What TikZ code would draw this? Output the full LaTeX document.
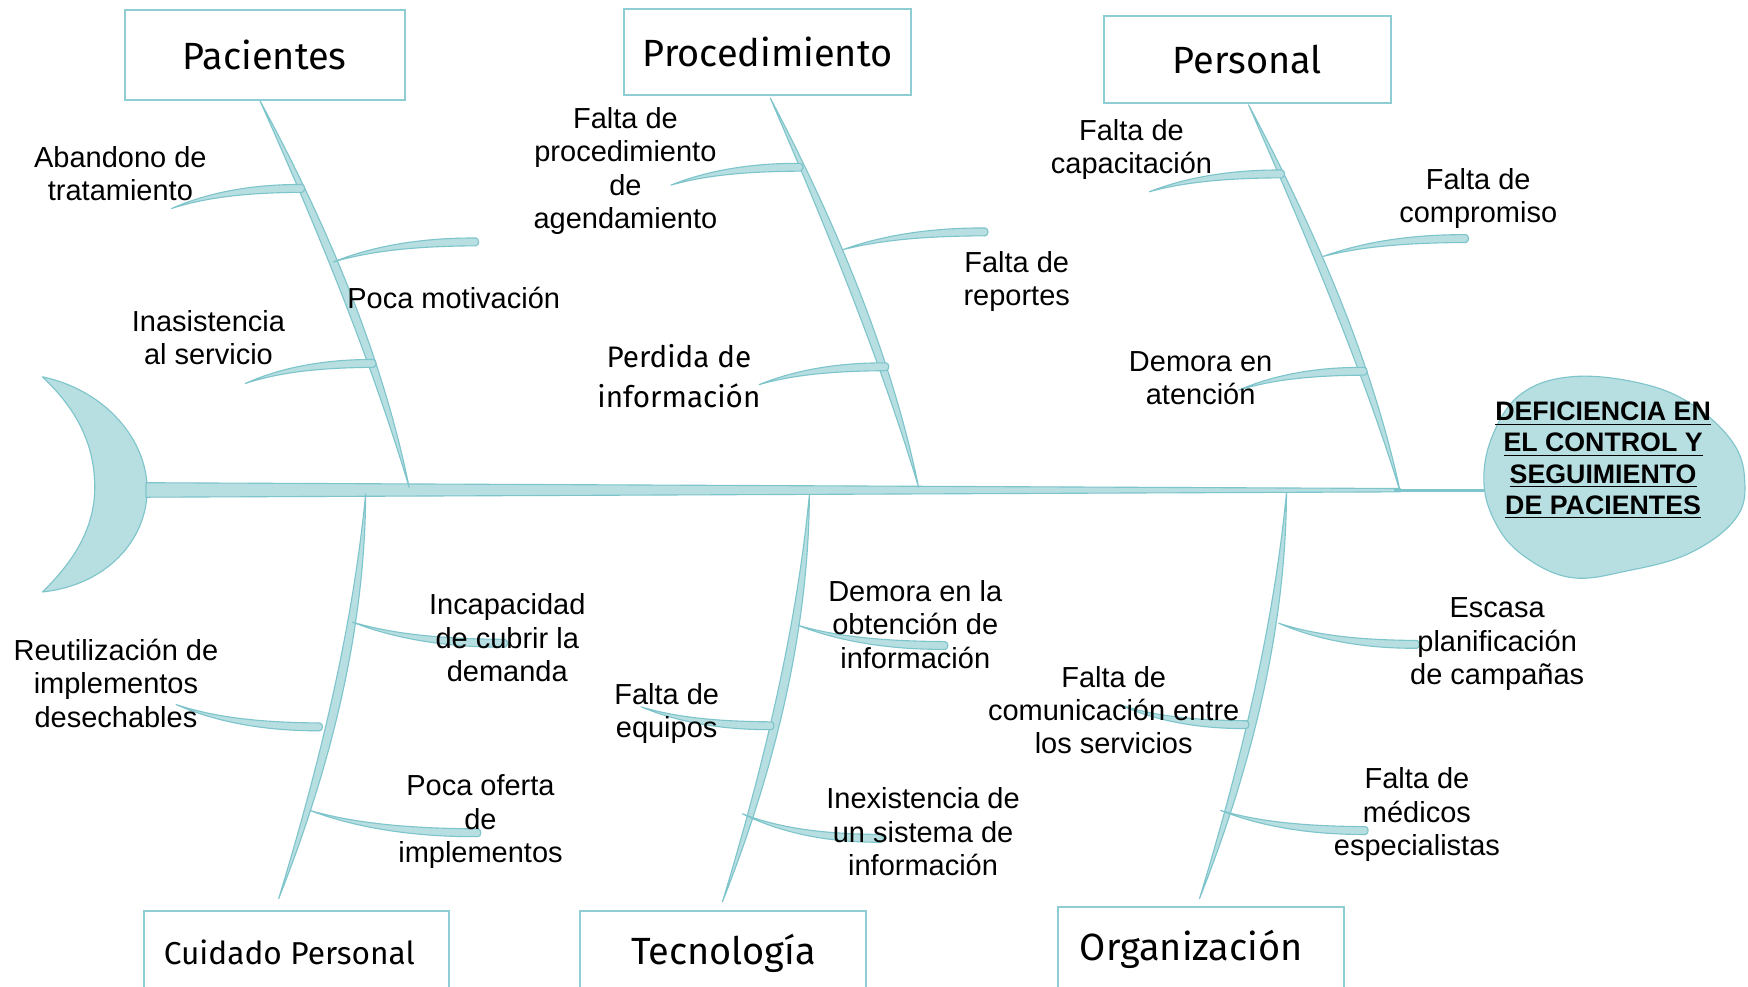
\documentclass[tikz,border=0pt]{standalone}
\usepackage{fontspec}
\setmainfont{Liberation Sans}
\newfontfamily\comic{Fira Sans}
\definecolor{bonefill}{HTML}{B7DFE2}
\definecolor{boneline}{HTML}{7EC4CB}
\definecolor{boxline}{HTML}{8DCDD3}
\tikzset{
  bonestyle/.style={fill=bonefill, draw=boneline, line width=0.5pt, line join=round},
  catbox/.style={draw=boxline, line width=0.9pt, fill=white, inner sep=0pt},
  cattext/.style={font=\comic\fontsize{17}{20}\selectfont, inner sep=0pt},
  lbl/.style={font=\fontsize{13}{15}\selectfont, align=center, inner sep=0pt},
  headtext/.style={font=\bfseries\fontsize{12}{14}\selectfont, align=center, inner sep=0pt},
}
% swoosh: P = left end (pointed), Q = right end (blunt)
\newcommand\swoosh[4]{%
 \filldraw[bonestyle] (#1,#2)
   .. controls ({#1+0.3*(#3-#1)},{#2+0.75*(#4-#2)-2}) and ({#1+0.65*(#3-#1)},{#4-3.8}) .. (#3,{#4-3.5})
   .. controls ({#3+3},{#4-2.8}) and ({#3+3},{#4+2.8}) .. (#3,{#4+3.5})
   .. controls ({#1+0.65*(#3-#1)},{#4+3.8}) and ({#1+0.3*(#3-#1)},{#2+0.75*(#4-#2)+2}) .. (#1,#2) -- cycle;}
% vertical bone A C1 C2 B
\newcommand\vbone[8]{%
 \filldraw[bonestyle] (#1,#2) .. controls ({#3-5.5},#4) and ({#5-5.5},#6) .. (#7,#8)
   .. controls ({#5+5.5},#6) and ({#3+5.5},#4) .. (#1,#2) -- cycle;}
\begin{document}
\begin{tikzpicture}[x=0.5pt,y=-0.5pt]
\clip (0,0) rectangle (1568,885);
\fill[white] (0,0) rectangle (1568,885);

% tail
\filldraw[bonestyle] (38,338) .. controls (95,350) and (132,395) .. (132,439)
  .. controls (132,485) and (95,525) .. (38,531)
  .. controls (70,500) and (85,470) .. (85,437)
  .. controls (85,400) and (70,368) .. (38,338) -- cycle;

% main spine
\filldraw[bonestyle] (131,433) -- (1256,438.2) -- (1256,441.2) -- (131,446) -- cycle;
\coordinate (spineend) at (1250,439.7);

% head
\filldraw[bonestyle] plot[smooth cycle, tension=0.65] coordinates {(1331,430) (1340,388) (1365,353) (1409,338) (1468,343) (1515,361) (1553,395) (1565,430) (1557,465) (1516,496) (1460,512) (1409,518) (1366,498) (1341,468)};
\node[headtext] (efecto) at (1438,413) {\underline{DEFICIENCIA EN}\\[0pt]\underline{EL CONTROL Y}\\[0pt]\underline{SEGUIMIENTO}\\[0pt]\underline{DE PACIENTES}};
\coordinate (headwest) at (1332,439.7);
\draw[boneline, line width=1.2pt] (spineend) -- (headwest);

% main bones
\vbone{233}{90}{290}{205}{338}{322}{367}{437}
\vbone{691}{88}{746}{203}{795}{322}{824}{437}
\vbone{1120}{94}{1176}{210}{1226}{326}{1256}{441}
\vbone{328}{443}{322}{563}{292}{686}{250}{806}
\vbone{726}{444}{720}{564}{690}{689}{648}{809}
\vbone{1154}{442}{1148}{562}{1118}{686}{1076}{806}

% sub branches (upper)
\swoosh{154}{187}{271}{169}
\swoosh{299}{235}{427}{217}
\swoosh{220}{344}{335}{326}
\swoosh{602}{166}{718}{150}
\swoosh{756}{224}{884}{208}
\swoosh{681}{345}{795}{329}
\swoosh{1031}{172}{1150}{156}
\swoosh{1187}{230}{1315}{214}
\swoosh{1111}{350}{1224}{333}
% sub branches (lower)
\swoosh{316}{558}{453}{577}
\swoosh{158}{632}{287}{652}
\swoosh{278}{727}{429}{747}
\swoosh{716}{561}{848}{579}
\swoosh{575}{634}{692}{651}
\swoosh{666}{730}{790}{752}
\swoosh{1004}{632}{1118}{650}
\swoosh{1147}{559}{1271}{578}
\swoosh{1095}{727}{1225}{745}

% category boxes
\node[catbox, minimum width=125.5pt, minimum height=40.5pt, cattext] (pac) at (237.5,49.5) {Pacientes};
\node[catbox, minimum width=128.5pt, minimum height=38.5pt, cattext] (proc) at (688.5,46.5) {Procedimiento};
\node[catbox, minimum width=129pt, minimum height=39pt, cattext] (pers) at (1119,53) {Personal};
\node[catbox, minimum width=137pt, minimum height=45pt] (cuid) at (266,862) {};
\node[catbox, minimum width=128.5pt, minimum height=45pt] (tec) at (648.5,862) {};
\node[catbox, minimum width=128.5pt, minimum height=46.5pt] (org) at (1077.5,860.5) {};
\node[cattext, font=\comic\fontsize{14.2}{17}\selectfont] (cuidt) at (259.5,854) {Cuidado Personal};
\node[cattext] (tect) at (649,855) {Tecnología};
\node[cattext] (orgt) at (1068.5,852) {Organización};

% labels
\node[lbl] (l1) at (108,156) {Abandono de\\tratamiento};
\node[lbl] (l2) at (407,267) {Poca motivación};
\node[lbl] (l3) at (187,303) {Inasistencia\\al servicio};
\node[lbl] (l4) at (561,153.5) {Falta de\\procedimiento\\de\\agendamiento};
\node[lbl] (l5) at (912,252.5) {Falta de\\reportes};
\node[lbl, font=\comic\fontsize{13.3}{18}\selectfont] (l6) at (609,337) {Perdida de\\información};
\node[lbl] (l7) at (1015,134) {Falta de\\capacitación};
\node[lbl] (l8) at (1326,178) {Falta de\\compromiso};
\node[lbl] (l9) at (1077,339) {Demora en\\atención};
\node[lbl] (l10) at (455,572) {Incapacidad\\de cubrir la\\demanda};
\node[lbl] (l11) at (104,613) {Reutilización de\\implementos\\desechables};
\node[lbl] (l12) at (431,737) {Poca oferta\\de\\implementos};
\node[lbl] (l13) at (821,560) {Demora en la\\obtención de\\información};
\node[lbl] (l14) at (598,640) {Falta de\\equipos};
\node[lbl] (l15) at (828,746) {Inexistencia de\\un sistema de\\información};
\node[lbl] (l16) at (999,637) {Falta de\\comunicación entre\\los servicios};
\node[lbl] (l17) at (1343,578) {Escasa\\planificación\\de campañas};
\node[lbl] (l18) at (1271,731) {Falta de\\médicos\\especialistas};
\end{tikzpicture}
\end{document}
